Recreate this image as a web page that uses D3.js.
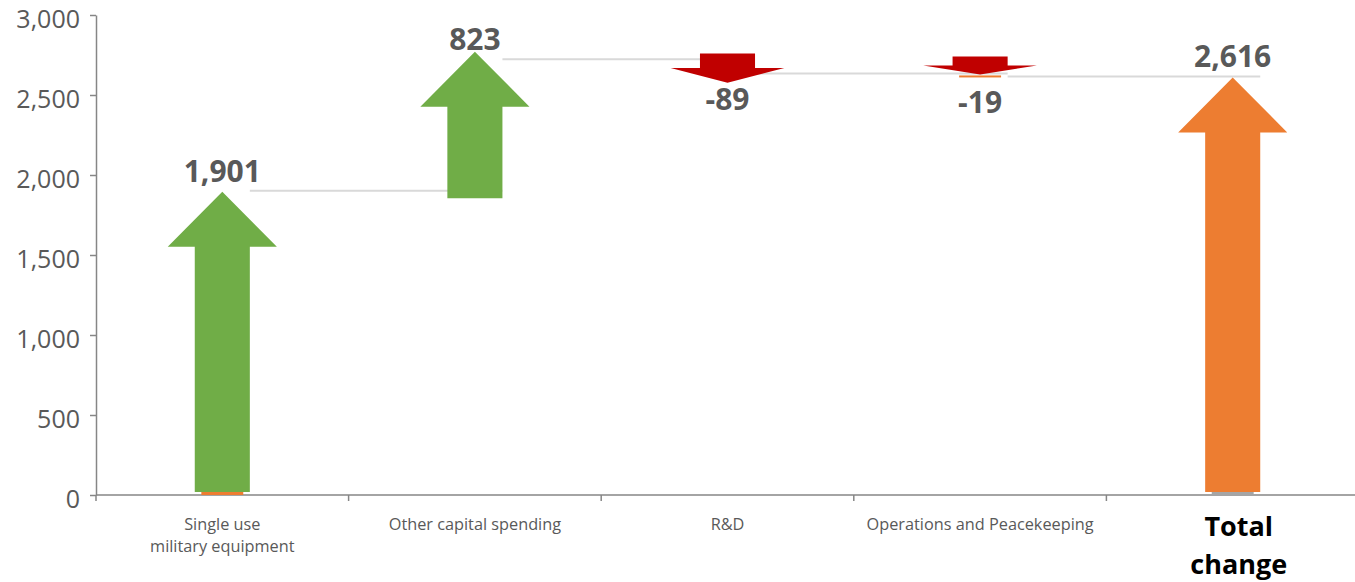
<!DOCTYPE html>
<html>
<head>
<meta charset="utf-8">
<script src="https://cdn.jsdelivr.net/npm/d3@7"></script>
<style>
  html, body { margin: 0; padding: 0; background: #fff; }
  svg { display: block; font-family: "Open Sans", "DejaVu Sans", sans-serif; }
</style>
</head>
<body>
<svg id="chart" width="1355" height="582"></svg>
<script>
// chart data
const categories = ["Single use\nmilitary equipment", "Other capital spending", "R&D", "Operations and Peacekeeping", "Total change"];
const changes = [1901, 823, -89, -19, 2616];
const isTotal = [false, false, false, false, true];
const valueLabels = ["1,901", "823", "-89", "-19", "2,616"];
const yTicks = [0, 500, 1000, 1500, 2000, 2500, 3000];
// little leftover marks from the original sheet (category index, value level, colour)
const stubCats = [0, 3, 4];
const stubLevels = [0, 2616, 0];
const stubColors = ["#ed7d31", "#ed7d31", "#a5a5a5"];

const svg = d3.select("#chart");
const margin = { left: 96, top: 15, bottom: 87 };
const bandW = 252.6;
const height = 582;

const x = d3.scaleBand()
  .domain(d3.range(categories.length))
  .range([margin.left, margin.left + bandW * categories.length])
  .padding(0);

const y = d3.scaleLinear()
  .domain([0, 3000])
  .range([height - margin.bottom, margin.top]);

// running totals
let running = 0;
const steps = changes.map((v, i) => {
  let start, end;
  if (isTotal[i]) { start = 0; end = v; }
  else { start = running; end = running + v; running = end; }
  return { i, v, start, end, label: valueLabels[i] };
});

const axisColor = "#868686";
const textColor = "#595959";

// y axis
const yAxis = svg.append("g")
  .attr("transform", `translate(${margin.left},0)`)
  .call(d3.axisLeft(y).tickValues(yTicks).tickFormat(d3.format(",")).tickSize(6).tickSizeOuter(0));
yAxis.select(".domain").attr("stroke", axisColor).attr("stroke-width", 1.5);
yAxis.selectAll(".tick line").attr("stroke", axisColor).attr("stroke-width", 1.5);
yAxis.selectAll(".tick text")
  .attr("fill", textColor)
  .attr("font-size", 25)
  .attr("font-family", "'Open Sans', sans-serif")
  .attr("x", -16)
  .attr("y", 3)
  .attr("dy", "0.36em");

// x axis line and ticks at band edges
const y0 = y(0);
svg.append("line")
  .attr("x1", margin.left).attr("x2", 1355)
  .attr("y1", y0).attr("y2", y0)
  .attr("stroke", axisColor).attr("stroke-width", 1.5);
svg.selectAll(".xtick")
  .data(d3.range(categories.length))
  .enter().append("line")
  .attr("class", "xtick")
  .attr("x1", d => x(d)).attr("x2", d => x(d))
  .attr("y1", y0).attr("y2", y0 + 6)
  .attr("stroke", axisColor).attr("stroke-width", 1.5);

// x labels
const shaftW = bandW * 0.218;
categories.forEach((c, i) => {
  const cx = x(i) + bandW / 2;
  const lines = c.split("\n");
  const t = svg.append("text")
    .attr("text-anchor", "middle");
  if (isTotal[i]) {
    t.attr("font-size", 27).attr("font-weight", "bold").attr("fill", "#000");
    ["Total", "change"].forEach((w, k) => {
      t.append("tspan").attr("x", cx + 6).attr("y", 536 + k * 38).text(w);
    });
  } else {
    t.attr("font-size", 16.3).attr("fill", textColor);
    lines.forEach((w, k) => {
      t.append("tspan").attr("x", cx).attr("y", 530 + k * 22).text(w);
    });
  }
});

// connectors between steps
const conn = svg.append("g");
for (let i = 0; i < steps.length - 1; i++) {
  const cx1 = x(i) + bandW / 2;
  const cx2 = x(i + 1) + bandW / 2;
  conn.append("line")
    .attr("x1", cx1 + shaftW / 2).attr("x2", cx2 + shaftW / 2)
    .attr("y1", y(steps[i].end)).attr("y2", y(steps[i].end))
    .attr("stroke", "#d9d9d9").attr("stroke-width", 2);
}

// stubs
stubCats.forEach((c, k) => {
  const cx = x(c) + bandW / 2;
  const w = bandW * 0.166;
  const h = stubLevels[k] === 0 ? 3 : 2;
  svg.append("rect")
    .attr("x", cx - w / 2)
    .attr("y", y(stubLevels[k]) - h + (stubLevels[k] === 0 ? 0 : 1))
    .attr("width", w)
    .attr("height", h)
    .attr("fill", stubColors[k]);
});

// arrows
function arrowPath(cx, tail, tip, sw, hw, hh) {
  const dir = tip < tail ? 1 : -1; // 1 = pointing up
  const neck = tip + dir * hh;
  return `M${cx - sw / 2},${tail} L${cx - sw / 2},${neck} L${cx - hw / 2},${neck} L${cx},${tip} ` +
         `L${cx + hw / 2},${neck} L${cx + sw / 2},${neck} L${cx + sw / 2},${tail} Z`;
}

steps.forEach(s => {
  const cx = x(s.i) + bandW / 2;
  let tail, tip, hh, hw, color;
  if (s.v > 0) {
    if (s.start === 0) {
      tail = y(s.start) - 3;
      tip = y(s.end) + 1;
    } else {
      tail = y(s.start) + 7.5;
      tip = y(s.end) - 7.5;
    }
    hh = Math.min(55, Math.abs(tail - tip) * 0.5);
    hw = bandW * 0.432;
    color = isTotal[s.i] ? "#ed7d31" : "#70ad47";
  } else {
    // short drops: picture keeps a minimum length
    const dy = y(s.end) - y(s.start);
    tip = y(s.start) + 2 * dy - 5;
    tail = tip - (dy + 15);
    hh = (dy + 15) * 0.5;
    hw = bandW * 0.45;
    color = "#c00000";
  }
  svg.append("path")
    .attr("d", arrowPath(cx, tail, tip, shaftW, hw, hh))
    .attr("fill", color);

  svg.append("text")
    .attr("x", cx)
    .attr("y", s.v > 0 ? y(s.end) - 9 : y(s.end) + 37)
    .attr("text-anchor", "middle")
    .attr("font-size", 30)
    .attr("font-weight", "bold")
    .attr("fill", textColor)
    .text(s.label);
});
</script>
</body>
</html>
